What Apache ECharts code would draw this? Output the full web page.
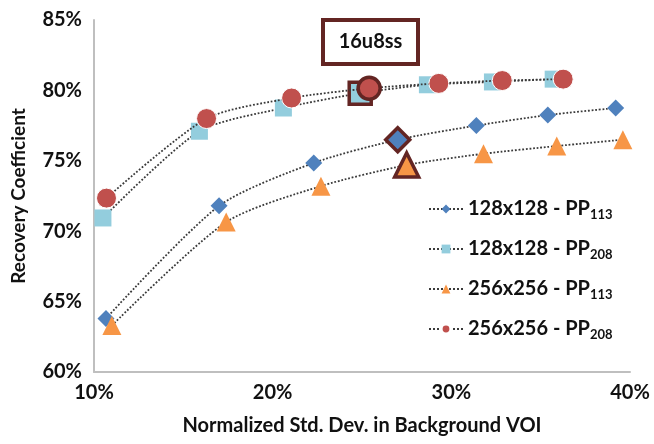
<!DOCTYPE html>
<html><head><meta charset="utf-8">
<script src="https://cdn.jsdelivr.net/npm/echarts@6/dist/echarts.min.js"></script>
<style>html,body{margin:0;padding:0;background:#fff}#c{width:654px;height:444px}</style>
</head><body><div id="c"></div>
<script>
const xTicks = [10, 20, 30, 40];
const yTicks = [60, 65, 70, 75, 80, 85];
const seriesNames = ['128x128 - PP113', '128x128 - PP208', '256x256 - PP113', '256x256 - PP208'];
const s128pp113X = [10.67, 17.0, 22.3, 27.0, 31.4, 35.4, 39.2];
const s128pp113Y = [63.8, 71.8, 74.85, 76.5, 77.5, 78.25, 78.75];
const s128pp208X = [10.5, 15.9, 20.6, 24.9, 28.66, 32.3, 35.7];
const s128pp208Y = [70.94, 77.1, 78.75, 79.8, 80.4, 80.6, 80.8];
const s256pp113X = [11.0, 17.4, 22.7, 27.5, 31.8, 35.9, 39.6];
const s256pp113Y = [63.3, 70.65, 73.2, 74.7, 75.5, 76.05, 76.5];
const s256pp208X = [10.7, 16.3, 21.06, 25.4, 29.3, 32.85, 36.26];
const s256pp208Y = [72.35, 78.0, 79.46, 80.15, 80.5, 80.7, 80.8];
const highlightIndex = 3;
const boxLabel = '16u8ss';

const FONT = 'Lato';
const brown = '#632523';
function mk(xs, ys, hiSize, color) {
  return xs.map((x, i) => {
    if (i === highlightIndex) {
      return { value: [x, ys[i]], symbolSize: hiSize,
        itemStyle: { color: color, borderColor: brown, borderWidth: 3.5 } };
    }
    return { value: [x, ys[i]] };
  });
}
const defs = [
  { xs: s128pp113X, ys: s128pp113Y, symbol: 'diamond', size: 17, hi: 24, color: '#4F81BD', bw: 0 },
  { xs: s128pp208X, ys: s128pp208Y, symbol: 'rect', size: 17, hi: 22, color: '#93CDDD', bw: 0 },
  { xs: s256pp113X, ys: s256pp113Y, symbol: 'triangle', size: 19, hi: 24, color: '#F79646', bw: 0 },
  { xs: s256pp208X, ys: s256pp208Y, symbol: 'circle', size: 20, hi: 22, color: '#C0504D', bw: 1 }
];
const series = defs.map((d, k) => ({
  name: seriesNames[k],
  type: 'line',
  smooth: 0.25,
  symbol: d.symbol,
  symbolSize: d.size,
  showAllSymbol: true,
  lineStyle: { color: '#3a3a3a', width: 1.8, type: 'dotted' },
  itemStyle: { color: d.color, borderColor: '#fff', borderWidth: d.bw },
  data: mk(d.xs, d.ys, d.hi, d.color),
  z: 2 + k
}));

function legendFmt(name) {
  const m = name.match(/^(.*PP)(\d+)$/);
  return '{a|' + m[1] + '}{s|' + m[2] + '}';
}

const chart = echarts.init(document.getElementById('c'), null, { renderer: 'canvas' });
chart.setOption({
  animation: false,
  backgroundColor: '#fff',
  textStyle: { fontFamily: FONT },
  grid: { left: 94, right: 24, top: 20, bottom: 72, containLabel: false },
  xAxis: {
    type: 'value', min: 10, max: 40, interval: 10,
    axisLine: { show: true, lineStyle: { color: '#BFBFBF', width: 2 } },
    axisTick: { show: false }, splitLine: { show: false },
    axisLabel: { formatter: v => xTicks.includes(v) ? v + '%' : '', color: '#111', fontWeight: 'bold', fontSize: 20, fontFamily: FONT, margin: 11 },
    name: 'Normalized Std. Dev. in Background VOI', nameLocation: 'middle', nameGap: 44,
    nameTextStyle: { color: '#111', fontWeight: 'bold', fontSize: 20, fontFamily: FONT }
  },
  yAxis: {
    type: 'value', min: 60, max: 85, interval: 5,
    axisLine: { show: true, lineStyle: { color: '#BFBFBF', width: 2 } },
    axisTick: { show: false }, splitLine: { show: false },
    axisLabel: { formatter: v => yTicks.includes(v) ? v + '%' : '', color: '#111', fontWeight: 'bold', fontSize: 20, fontFamily: FONT, margin: 12 },
    name: 'Recovery Coefficient', nameLocation: 'middle', nameGap: 66,
    nameTextStyle: { color: '#111', fontWeight: 'bold', fontSize: 19, fontFamily: FONT }
  },
  legend: {
    orient: 'vertical', left: 423, top: 194, itemGap: 18,
    itemWidth: 34, itemHeight: 11,
    data: seriesNames,
    formatter: legendFmt,
    textStyle: {
      rich: {
        a: { fontSize: 20, fontWeight: 'bold', fontFamily: FONT, color: '#111' },
        s: { fontSize: 13, fontWeight: 'bold', fontFamily: FONT, color: '#111', padding: [11, 0, 0, 0] }
      }
    }
  },
  graphic: [{
    type: 'group', left: 321, top: 18,
    children: [
      { type: 'rect', shape: { x: 0, y: 0, width: 95, height: 44 }, style: { fill: '#fff', stroke: brown, lineWidth: 4 } },
      { type: 'text', x: 47.5, y: 22, style: { text: boxLabel, font: 'bold 20px ' + FONT, fill: '#111', align: 'center', verticalAlign: 'middle' } }
    ]
  }],
  series: series
});
</script></body></html>
